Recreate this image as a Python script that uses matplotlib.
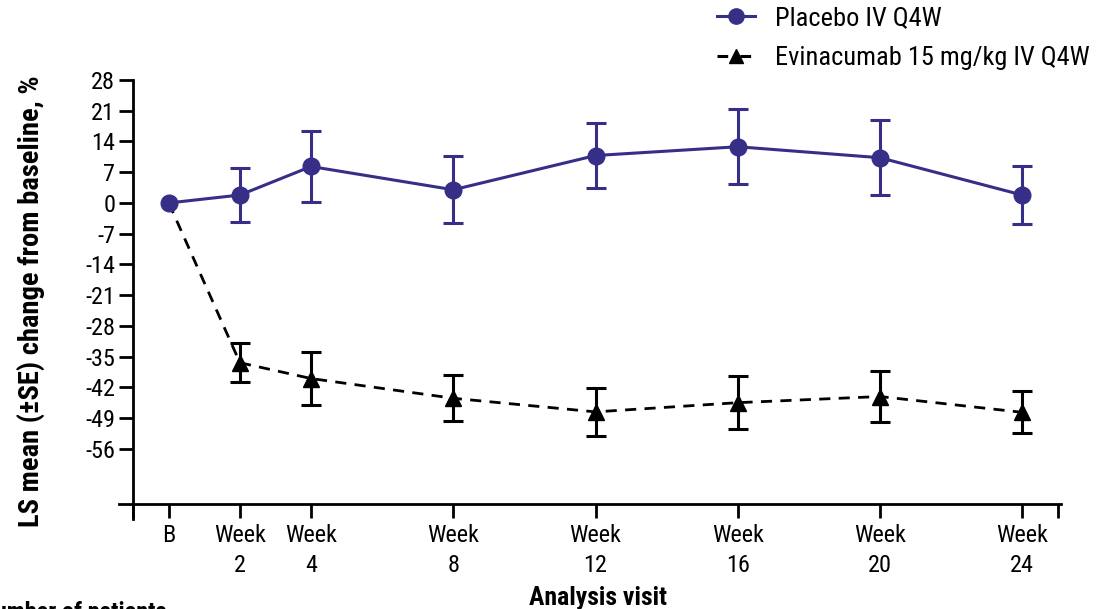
import matplotlib
matplotlib.use("Agg")
import matplotlib.pyplot as plt
from matplotlib.lines import Line2D

plt.rcParams['font.family'] = ['Roboto Condensed', 'Archivo Narrow', 'DejaVu Sans']

weeks = [0, 2, 4, 8, 12, 16, 20, 24]
tick_labels = ['B', 'Week\n2', 'Week\n4', 'Week\n8', 'Week\n12', 'Week\n16', 'Week\n20', 'Week\n24']

placebo_mean = [0, 1.8, 8.3, 3.0, 10.8, 12.8, 10.3, 1.8]
placebo_se = [0, 6.2, 8.2, 7.6, 7.5, 8.5, 8.5, 6.7]

evin_mean = [0, -36.4, -40.0, -44.5, -47.6, -45.5, -44.1, -47.7]
evin_se = [0, 4.4, 6.0, 5.2, 5.4, 6.0, 5.85, 4.75]

yticks = [28, 21, 14, 7, 0, -7, -14, -21, -28, -35, -42, -49, -56]

PURPLE = '#372e87'

fig = plt.figure(figsize=(10.97, 6.09), dpi=100)
ax = fig.add_axes([0.1085, 0.1478, 0.9675 - 0.1085, 0.8686 - 0.1478])

# evinacumab: dashed line from baseline, markers only after baseline
ax.plot(weeks, evin_mean, color='black', lw=2, ls=(0, (4, 3)), zorder=2)
ax.errorbar(weeks[1:], evin_mean[1:], yerr=evin_se[1:], fmt='^', color='black',
            ms=11, elinewidth=2.2, capsize=7, capthick=2.2, zorder=3)

# placebo
ax.errorbar(weeks[1:], placebo_mean[1:], yerr=placebo_se[1:], fmt='none', ecolor=PURPLE,
            elinewidth=2.2, capsize=7, capthick=2.2, zorder=4)
ax.plot(weeks, placebo_mean, color=PURPLE, lw=2.2, marker='o', ms=12, zorder=5)

ax.set_xlim(-1.4, 25.1)
ax.set_ylim(-72, 28)

ax.spines['top'].set_visible(False)
ax.spines['right'].set_visible(False)
ax.spines['left'].set_position(('data', -1))
ax.spines['bottom'].set_position(('data', -68.5))
ax.spines['left'].set_linewidth(2)
ax.spines['bottom'].set_linewidth(2)
ax.spines['left'].set_bounds(-72, 28)

ax.set_yticks(yticks)
ax.set_yticklabels([str(v) for v in yticks])
ax.set_xticks([-1] + weeks + [25])
ax.set_xticklabels([''] + tick_labels + [''])
ax.tick_params(axis='both', direction='out', length=10, width=2, labelsize=17.5)
ax.tick_params(axis='y', pad=3)
ax.tick_params(axis='x', pad=5)
for lbl in ax.get_xticklabels():
    lbl.set_linespacing(1.35)

fig.text(0.545, 0.018, 'Analysis visit', ha='center', va='center',
         fontsize=18.5, fontweight='bold')
fig.text(0.028, 0.505, 'LS mean (±SE) change from baseline, %', rotation=90,
         ha='center', va='center', fontsize=20.5, fontweight='bold')

fig.text(-0.018, -0.025, 'Number of patients', fontsize=17.5, fontweight='bold',
         ha='left', va='bottom')

handles = [
    Line2D([], [], color=PURPLE, lw=2.2, marker='o', ms=11),
    Line2D([], [], color='black', lw=2.2, ls=(0, (3.5, 4)), marker='^', ms=10),
]
fig.legend(handles, ['Placebo IV Q4W', 'Evinacumab 15 mg/kg IV Q4W'],
           loc='upper left', bbox_to_anchor=(0.6536, 0.99), frameon=False,
           borderpad=0, borderaxespad=0,
           fontsize=19, handlelength=1.45, handletextpad=0.75, labelspacing=0.6)

fig.savefig('out.png', dpi=100)
